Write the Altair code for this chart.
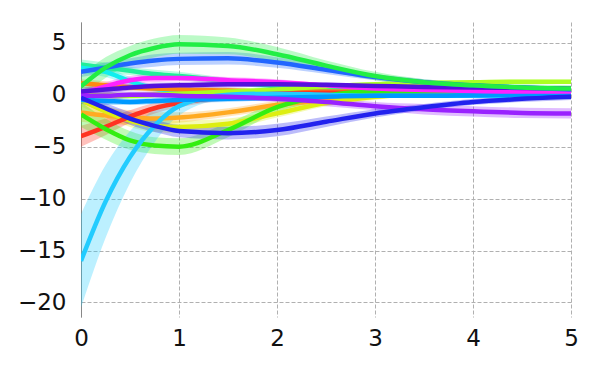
import altair as alt
import pandas as pd

x_grid = [0, 0.25, 0.5, 0.75, 1, 1.5, 2, 2.5, 3, 3.5, 4, 4.5, 5]

teal_mean = [2.9, 2.6, 2.3, 2.0, 1.8, 1.3, 0.8, 0.5, 0.4, 0.3, 0.3, 0.3, 0.3]
teal_band = [0.5, 0.5, 0.4, 0.4, 0.4, 0.3, 0.3, 0.3, 0.2, 0.2, 0.2, 0.2, 0.2]
cyan2_mean = [2.6, 2.2, 1.3, 0.6, 0.4, 0.3, 0.2, 0.1, 0.1, 0.1, 0.1, 0.1, 0.1]
cyan2_band = [0.5, 0.5, 0.4, 0.3, 0.3, 0.3, 0.2, 0.2, 0.2, 0.2, 0.2, 0.2, 0.2]
orange_up_mean = [1.1, 0.9, 0.7, 0.6, 0.5, 0.4, 0.3, 0.3, 0.3, 0.3, 0.3, 0.3, 0.3]
orange_up_band = [0.4, 0.4, 0.3, 0.3, 0.3, 0.3, 0.2, 0.2, 0.2, 0.2, 0.2, 0.2, 0.2]
lime_mean = [0.0, -0.1, -0.1, 0.0, 0.1, 0.3, 0.5, 0.8, 1.0, 1.15, 1.2, 1.25, 1.25]
lime_band = [0.4, 0.4, 0.3, 0.3, 0.3, 0.3, 0.2, 0.2, 0.2, 0.2, 0.2, 0.2, 0.2]
orange_mean = [-1.7, -2.0, -2.2, -2.3, -2.2, -1.7, -1.0, -0.5, -0.1, 0.1, 0.2, 0.3, 0.3]
orange_band = [0.9, 0.8, 0.7, 0.6, 0.5, 0.4, 0.4, 0.3, 0.3, 0.2, 0.2, 0.2, 0.2]
yellow_mean = [-0.5, -1.6, -2.5, -3.0, -3.1, -2.8, -1.8, -0.8, -0.2, 0.1, 0.2, 0.2, 0.2]
yellow_band = [0.6, 0.6, 0.6, 0.6, 0.6, 0.5, 0.4, 0.3, 0.3, 0.2, 0.2, 0.2, 0.2]
red_mean = [-4.0, -3.1, -2.1, -1.3, -0.8, -0.2, 0.1, 0.2, 0.2, 0.2, 0.1, 0.1, 0.1]
red_band = [1.0, 0.8, 0.6, 0.5, 0.4, 0.3, 0.2, 0.2, 0.2, 0.2, 0.2, 0.2, 0.2]
green_low_mean = [-1.9, -3.3, -4.4, -4.9, -5.0, -3.4, -1.2, -0.1, 0.3, 0.3, 0.3, 0.3, 0.3]
green_low_band = [1.2, 1.0, 0.9, 0.8, 0.8, 0.7, 0.5, 0.4, 0.3, 0.3, 0.3, 0.3, 0.3]
cyan_mean = [-16.0, -10.3, -6.0, -3.0, -1.1, 0.0, 0.1, 0.0, -0.1, -0.1, -0.1, -0.1, -0.1]
cyan_band = [4.5, 3.5, 2.5, 1.6, 0.9, 0.4, 0.3, 0.2, 0.2, 0.2, 0.2, 0.2, 0.2]
sky_mean = [-0.5, -0.6, -0.7, -0.6, -0.5, -0.4, -0.3, -0.2, -0.1, -0.1, -0.05, 0.0, 0.0]
sky_band = [0.4, 0.4, 0.3, 0.3, 0.3, 0.3, 0.2, 0.2, 0.2, 0.2, 0.2, 0.2, 0.2]
magenta_mean = [0.1, 0.8, 1.4, 1.6, 1.6, 1.4, 1.2, 0.9, 0.6, 0.45, 0.35, 0.3, 0.3]
magenta_band = [0.4, 0.4, 0.4, 0.4, 0.3, 0.3, 0.3, 0.2, 0.2, 0.2, 0.2, 0.2, 0.2]
purple_mean = [-0.1, -0.1, 0.0, 0.0, -0.1, -0.2, -0.4, -0.7, -1.1, -1.4, -1.6, -1.75, -1.8]
purple_band = [0.4, 0.4, 0.3, 0.3, 0.3, 0.3, 0.3, 0.4, 0.4, 0.5, 0.5, 0.5, 0.5]
indigo_mean = [0.3, 0.5, 0.7, 0.85, 0.9, 1.0, 1.0, 0.95, 0.85, 0.75, 0.7, 0.65, 0.6]
indigo_band = [0.4, 0.4, 0.3, 0.3, 0.3, 0.3, 0.2, 0.2, 0.2, 0.2, 0.2, 0.2, 0.2]
darkblue_mean = [-0.3, -1.3, -2.3, -3.0, -3.5, -3.7, -3.4, -2.6, -1.8, -1.2, -0.7, -0.4, -0.2]
darkblue_band = [0.5, 0.5, 0.6, 0.6, 0.6, 0.6, 0.6, 0.5, 0.4, 0.3, 0.3, 0.3, 0.3]
blue_mean = [2.2, 2.6, 3.0, 3.3, 3.45, 3.5, 3.1, 2.4, 1.7, 1.2, 0.9, 0.7, 0.5]
blue_band = [0.5, 0.5, 0.5, 0.6, 0.6, 0.6, 0.5, 0.4, 0.3, 0.3, 0.2, 0.2, 0.2]
green_top_mean = [0.8, 2.6, 3.8, 4.5, 4.85, 4.7, 3.9, 2.8, 1.8, 1.2, 0.9, 0.7, 0.6]
green_top_band = [1.0, 1.0, 0.9, 0.9, 0.9, 0.8, 0.7, 0.5, 0.4, 0.3, 0.3, 0.3, 0.3]

series_names = ["teal", "cyan2", "orange_up", "lime", "orange", "yellow", "red",
                "green_low", "cyan", "sky", "magenta", "purple", "indigo",
                "darkblue", "blue", "green_top"]
series_colors = ["#22ee99", "#11eeee", "#ff8811", "#aaff22", "#ffaa22", "#ddee11",
                 "#ff3322", "#33ee11", "#22ccff", "#0099ff", "#ff22ff", "#9922ff",
                 "#5511dd", "#2222ee", "#2266ff", "#22ee44"]
series_means = [teal_mean, cyan2_mean, orange_up_mean, lime_mean, orange_mean,
                yellow_mean, red_mean, green_low_mean, cyan_mean, sky_mean,
                magenta_mean, purple_mean, indigo_mean, darkblue_mean, blue_mean,
                green_top_mean]
series_bands = [teal_band, cyan2_band, orange_up_band, lime_band, orange_band,
                yellow_band, red_band, green_low_band, cyan_band, sky_band,
                magenta_band, purple_band, indigo_band, darkblue_band, blue_band,
                green_top_band]

rows = []
for order, (name, mean, band) in enumerate(zip(series_names, series_means, series_bands)):
    for xv, m, b in zip(x_grid, mean, band):
        rows.append({"series": name, "order": order, "x": xv, "y": m,
                     "lo": m - b, "hi": m + b})
df = pd.DataFrame(rows)

color = alt.Color("series:N", scale=alt.Scale(domain=series_names, range=series_colors),
                  legend=None)
xs = alt.X("x:Q", scale=alt.Scale(domain=[0, 5], nice=False),
           axis=alt.Axis(values=[0, 1, 2, 3, 4, 5], title=None, domain=False,
                         ticks=False, labelPadding=10, grid=True, labelFlush=False,
                         labelFontSize=23, labelFont="DejaVu Sans"))
ys = alt.Y("y:Q", scale=alt.Scale(domain=[-21.4, 7.0], nice=False, zero=False),
           axis=alt.Axis(values=[-20, -15, -10, -5, 0, 5], title=None, domain=True,
                         domainColor="#888888", ticks=False, labelPadding=15,
                         grid=True, labelFlush=False,
                         labelFontSize=23, labelFont="DejaVu Sans"))

base = alt.Chart(df)
bands = base.mark_area(opacity=0.3, interpolate="monotone", clip=True).encode(
    x=xs, y=alt.Y("lo:Q"), y2="hi:Q", color=color, detail="series:N",
    order="order:Q")
lines = base.mark_line(strokeWidth=4.5, interpolate="monotone", clip=True).encode(
    x=xs, y=ys, color=color, detail="series:N", order="x:Q")

chart = alt.layer(bands, lines).resolve_scale(y="shared").properties(
    width=490, height=295,
    autosize=alt.AutoSizeParams(type="none"),
    padding={"left": 73, "top": 14, "right": 20, "bottom": 40},
).configure_view(stroke=None).configure_axis(
    labelColor="#111111",
    gridColor="#b0b0b0", gridDash=[4, 2], gridWidth=1,
)

chart.save("out.html", embed_options={"renderer": "svg", "actions": False})
